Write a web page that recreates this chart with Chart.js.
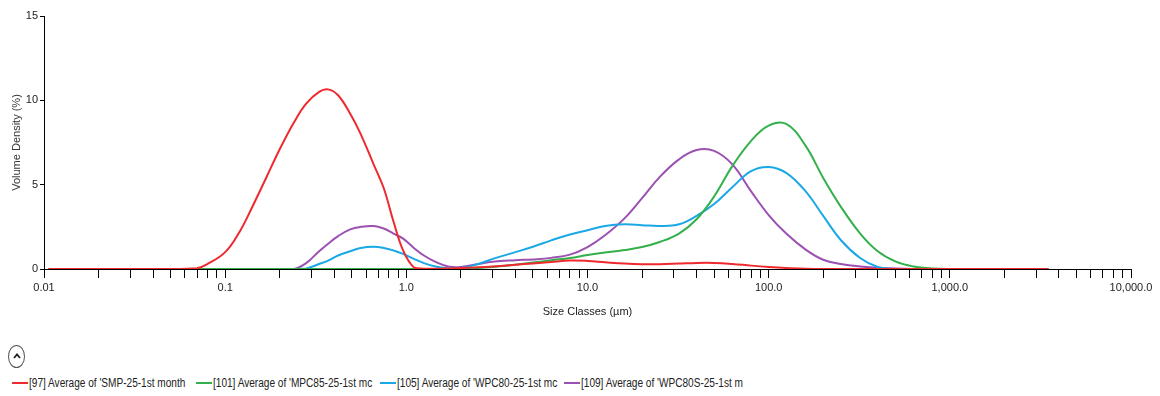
<!DOCTYPE html>
<html>
<head>
<meta charset="utf-8">
<script src="https://cdn.jsdelivr.net/npm/chart.js@4.4.1/dist/chart.umd.min.js"></script>
<style>
  body { margin: 0; background: #fff; font-family: "Liberation Sans", sans-serif; }
  #wrap { position: relative; width: 1160px; height: 396px; overflow: hidden; }
  #box { position: absolute; left: 0; top: 0; width: 1160px; height: 330px; }
  #toggle { position: absolute; left: 8px; top: 345px; width: 15px; height: 21px; border: 1px solid #555; border-radius: 50%; }
  #toggle svg { position: absolute; left: 4px; top: 7px; }
  #legend { position: absolute; left: 12px; top: 376px; display: flex; font-size: 12px; color: #222; }
  .item { width: 184px; flex-shrink: 0; display: flex; align-items: center; white-space: nowrap; overflow: hidden; }
  .swatch { display: inline-block; flex-shrink: 0; width: 16px; height: 2px; margin-right: 1px; }
  .txt { display: inline-block; transform: scaleX(0.84); transform-origin: 0 50%; }
</style>
</head>
<body>
<div id="wrap">
  <div id="box"><canvas id="chart"></canvas></div>
  <div id="toggle"><svg width="8" height="6"><polyline points="1,5 4,1.5 7,5" fill="none" stroke="#222" stroke-width="1.8"/></svg></div>
  <div id="legend"></div>
</div>
<script>
// size classes (um)
var sizes = [0.0106, 0.05, 0.07, 0.08, 0.1, 0.12, 0.14, 0.17, 0.2, 0.24, 0.28, 0.33, 0.37, 0.42, 0.49, 0.56, 0.66, 0.75, 0.85, 0.96,
             1.1, 1.25, 1.45, 1.7, 2, 2.5, 3, 4, 5, 6.3, 8, 10, 12.5, 16, 20, 25, 32, 40, 50, 63,
             80, 100, 125, 160, 200, 250, 320, 400, 500, 630, 800, 1000, 3500];

var labels = ["[97] Average of 'SMP-25-1st month", "[101] Average of 'MPC85-25-1st mc",
              "[105] Average of 'WPC80-25-1st mc", "[109] Average of 'WPC80S-25-1st m"];
var colors = ['#ee2a2e', '#33b04b', '#1ba8e6', '#9b50b2'];

var smp = [0, 0, 0.05, 0.3, 1.0, 2.2, 3.6, 5.5, 7.1, 8.7, 9.8, 10.5, 10.65, 10.3, 9.2, 8.0, 6.2, 4.8, 2.8, 1.1,
           0.1, 0.02, 0.02, 0.03, 0.06, 0.1, 0.15, 0.25, 0.33, 0.42, 0.5, 0.48, 0.4, 0.32, 0.28, 0.28, 0.32, 0.36, 0.36, 0.3,
           0.2, 0.12, 0.06, 0.02, 0, 0, 0, 0, 0, 0, 0, 0, 0];
var mpc85 = [0, 0, 0, 0, 0, 0, 0, 0, 0, 0, 0, 0, 0, 0, 0, 0, 0, 0, 0, 0,
             0, 0, 0, 0, 0.02, 0.06, 0.12, 0.25, 0.38, 0.52, 0.65, 0.83, 0.98, 1.12, 1.3, 1.6, 2.1, 2.95, 4.3, 6.1,
             7.6, 8.5, 8.6, 7.3, 5.4, 3.7, 2.1, 1.05, 0.45, 0.15, 0.03, 0, 0];
var wpc80 = [0, 0, 0, 0, 0, 0, 0, 0, 0, 0, 0.03, 0.3, 0.5, 0.8, 1.05, 1.25, 1.32, 1.25, 1.1, 0.9,
             0.6, 0.35, 0.15, 0.04, 0.05, 0.3, 0.6, 1.0, 1.32, 1.7, 2.05, 2.3, 2.55, 2.65, 2.6, 2.55, 2.65, 3.15, 3.85, 4.85,
             5.8, 6.05, 5.7, 4.6, 3.15, 1.72, 0.65, 0.12, 0, 0, 0, 0, 0];
var wpc80s = [0, 0, 0, 0, 0, 0, 0, 0, 0, 0, 0.35, 1.05, 1.5, 1.95, 2.35, 2.5, 2.55, 2.4, 2.1, 1.8,
              1.25, 0.8, 0.42, 0.15, 0.12, 0.3, 0.43, 0.52, 0.57, 0.66, 0.85, 1.3, 2.0, 3.0, 4.2, 5.45, 6.5, 7.05, 7.0, 6.2,
              4.6, 3.2, 2.1, 1.15, 0.55, 0.3, 0.15, 0.08, 0.03, 0, 0, 0, 0];

var series = [smp, mpc85, wpc80, wpc80s];
var xTickLabels = {0.01: '0.01', 0.1: '0.1', 1: '1.0', 10: '10.0', 100: '100.0', 1000: '1,000.0', 10000: '10,000.0'};
var yTicks = [0, 5, 10, 15];

var datasets = series.map(function (vals, i) {
    return {
        label: labels[i],
        data: vals.map(function (v, j) { return {x: sizes[j], y: v}; }),
        borderColor: colors[i],
        backgroundColor: colors[i],
        borderWidth: 2,
        pointRadius: 0,
        tension: 0.4,
        fill: false
    };
});

var font = {family: '"Liberation Sans", sans-serif', size: 11};

var ctx = document.getElementById('chart').getContext('2d');
var myChart = new Chart(ctx, {
    type: 'line',
    data: {datasets: datasets},
    options: {
        responsive: true,
        maintainAspectRatio: false,
        animation: false,
        layout: {padding: {top: 16, right: 29, left: 0, bottom: 0}},
        plugins: {legend: {display: false}, tooltip: {enabled: false}},
        scales: {
            x: {
                type: 'logarithmic',
                min: 0.01,
                max: 10000,
                afterBuildTicks: function (scale) {
                    var t = [];
                    for (var e = -2; e < 4; e++) {
                        for (var m = 1; m < 10; m++) t.push({value: m * Math.pow(10, e)});
                    }
                    t.push({value: 10000});
                    scale.ticks = t;
                },
                afterFit: function (scale) { scale.height = 61; },
                grid: {drawOnChartArea: false, drawTicks: true, tickLength: 9, color: '#000'},
                border: {color: '#000', width: 1},
                ticks: {
                    autoSkip: false, maxRotation: 0, padding: 3, color: '#222', font: font,
                    callback: function (v) {
                        var k = Object.keys(xTickLabels).find(function (key) { return Math.abs(parseFloat(key) - v) < v * 1e-6; });
                        return k ? xTickLabels[k] : '';
                    }
                },
                title: {display: true, text: 'Size Classes (\u00b5m)', color: '#222', font: font, padding: {top: 0, bottom: 11}}
            },
            y: {
                min: 0,
                max: 15,
                afterBuildTicks: function (scale) {
                    scale.ticks = yTicks.map(function (v) { return {value: v}; });
                },
                afterFit: function (scale) { scale.width = 44; },
                grid: {drawOnChartArea: false, drawTicks: true, tickLength: 4, color: '#000'},
                border: {color: '#000', width: 1},
                ticks: {padding: 2, color: '#222', font: font},
                title: {display: true, text: 'Volume Density (%)', color: '#333', font: font, padding: {top: 10, bottom: 0}}
            }
        }
    }
});

var legend = document.getElementById('legend');
labels.forEach(function (lab, i) {
    var item = document.createElement('div');
    item.className = 'item';
    var sw = document.createElement('span');
    sw.className = 'swatch';
    sw.style.background = colors[i];
    var tx = document.createElement('span');
    tx.className = 'txt';
    tx.textContent = lab;
    item.appendChild(sw);
    item.appendChild(tx);
    legend.appendChild(item);
});
</script>
</body>
</html>
